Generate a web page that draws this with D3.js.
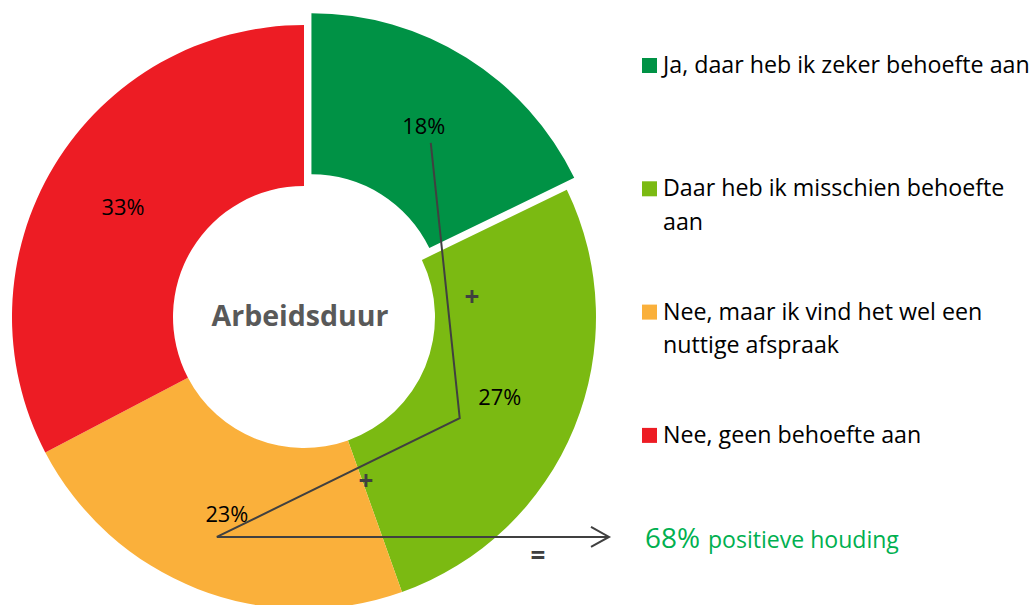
<!DOCTYPE html>
<html>
<head>
<meta charset="utf-8">
<script src="https://cdn.jsdelivr.net/npm/d3@7/dist/d3.min.js"></script>
<style>
  html, body { margin: 0; padding: 0; background: #fff; }
  svg { display: block; }
  text { font-family: "Open Sans", "Noto Sans", sans-serif; }
</style>
</head>
<body>
<svg id="chart" width="1034" height="605"></svg>
<script>
// ---- data ----
const categories = [
  "Ja, daar heb ik zeker behoefte aan",
  "Daar heb ik misschien behoefte aan",
  "Nee, maar ik vind het wel een nuttige afspraak",
  "Nee, geen behoefte aan"
];
const legendLines = [
  ["Ja, daar heb ik zeker behoefte aan"],
  ["Daar heb ik misschien behoefte", "aan"],
  ["Nee, maar ik vind het wel een", "nuttige afspraak"],
  ["Nee, geen behoefte aan"]
];
const values = [18, 27, 23, 33];
const valueLabels = ["18%", "27%", "23%", "33%"];
const colors = ["#009245", "#7BBA12", "#FAB03B", "#ED1C24"];
const explodedIndex = 0;
const centerTitle = "Arbeidsduur";
const summaryValue = "68%";
const summaryText = "positieve houding";

// ---- helpers ----
const svg = d3.select("#chart");
function fitSize(str, weight, target) {
  const t = svg.append("text").attr("font-size", 20).attr("font-weight", weight).text(str);
  const w = t.node().getComputedTextLength();
  t.remove();
  return 20 * target / w;
}

// ---- layout ----
const cx = 304, cy = 317, rIn = 131, rOut = 292, explode = 14;

const pie = d3.pie().sort(null).value(d => d);
const arcs = pie(values);
const arc = d3.arc().innerRadius(rIn).outerRadius(rOut);

function offsetOf(d, i) {
  if (i !== explodedIndex) return [0, 0];
  const a = (d.startAngle + d.endAngle) / 2;
  return [Math.sin(a) * explode, -Math.cos(a) * explode];
}

const g = svg.append("g").attr("transform", `translate(${cx},${cy})`);

g.selectAll("path.slice")
  .data(arcs)
  .join("path")
  .attr("class", "slice")
  .attr("d", arc)
  .attr("fill", (d, i) => colors[i])
  .attr("transform", (d, i) => { const o = offsetOf(d, i); return `translate(${o[0]},${o[1]})`; });

const cents = arcs.map((d, i) => {
  const c = arc.centroid(d); const o = offsetOf(d, i);
  return [c[0] + o[0], c[1] + o[1]];
});

// center title
svg.append("text")
  .attr("x", 300).attr("y", 326)
  .attr("text-anchor", "middle")
  .attr("font-size", fitSize(centerTitle, "bold", 177))
  .attr("font-weight", "bold")
  .attr("fill", "#595959")
  .text(centerTitle);

// annotation polyline
const p0 = [cx + cents[0][0] + 7, cy + cents[0][1] + 17];
const p1 = [cx + cents[1][0] - 40, cy + cents[1][1] + 21];
const p2 = [cx + cents[2][0] - 10, cy + cents[2][1] + 23];
const p3 = [609, p2[1]];
svg.append("path")
  .attr("d", d3.line()([p0, p1, p2, p3]))
  .attr("fill", "none")
  .attr("stroke", "#404040")
  .attr("stroke-width", 2);
svg.append("path")
  .attr("d", d3.line()([[p3[0] - 18, p3[1] - 10], p3, [p3[0] - 18, p3[1] + 10]]))
  .attr("fill", "none")
  .attr("stroke", "#404040")
  .attr("stroke-width", 2);

// value labels
const valSize = fitSize("18%", "normal", 43);
g.selectAll("text.val")
  .data(arcs)
  .join("text")
  .attr("class", "val")
  .attr("x", (d, i) => cents[i][0])
  .attr("y", (d, i) => cents[i][1] + 8)
  .attr("text-anchor", "middle")
  .attr("font-size", valSize)
  .attr("fill", "#000")
  .text((d, i) => valueLabels[i]);

// operators
const ops = [["+", 472, 306], ["+", 366, 490], ["=", 538, 565]];
svg.selectAll("text.op")
  .data(ops)
  .join("text")
  .attr("class", "op")
  .attr("x", d => d[1]).attr("y", d => d[2])
  .attr("text-anchor", "middle")
  .attr("font-size", 26)
  .attr("font-weight", "bold")
  .attr("fill", "#404040")
  .text(d => d[0]);

// legend
const legSize = fitSize(legendLines[0][0], "normal", 367);
const legend = svg.append("g").attr("transform", "translate(642,58)");
const item = legend.selectAll("g.item")
  .data(categories)
  .join("g")
  .attr("class", "item")
  .attr("transform", (d, i) => `translate(0,${i * 123.3})`);
item.append("rect")
  .attr("width", 15).attr("height", 15)
  .attr("fill", (d, i) => colors[i]);
item.each(function(d, i) {
  const t = d3.select(this).append("text")
    .attr("font-size", legSize)
    .attr("fill", "#000");
  legendLines[i].forEach((ln, j) => {
    t.append("tspan").attr("x", 21).attr("y", 15 + j * 33.5).text(ln);
  });
});

// summary
const sum = svg.append("text").attr("x", 645).attr("y", 548).attr("fill", "#00B050");
sum.append("tspan").attr("font-size", fitSize(summaryValue, "normal", 55)).text(summaryValue);
sum.append("tspan").attr("font-size", fitSize(summaryText, "normal", 191)).attr("dx", 8).text(summaryText);
</script>
</body>
</html>
